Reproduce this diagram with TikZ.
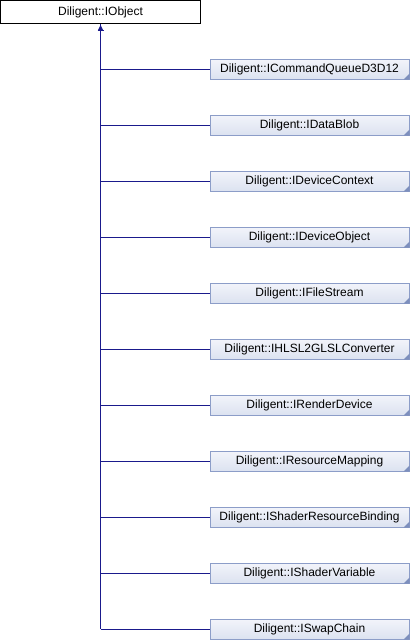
\documentclass[tikz,border=0pt]{standalone}
\usepackage{fontspec}
\setmainfont{Liberation Sans}
\usetikzlibrary{arrows.meta,calc}
\definecolor{edgeblue}{HTML}{1A1A8C}
\definecolor{boxborder}{HTML}{8C9DC8}
\definecolor{boxfilltop}{HTML}{F2F4FA}
\definecolor{boxfillbot}{HTML}{DCE2F0}
\definecolor{cornerc}{HTML}{7D8FBD}
\tikzset{
  basebox/.style={draw=black, line width=1pt, fill=white, minimum width=200pt, minimum height=23pt, inner sep=0pt, font=\fontsize{12}{12}\selectfont},
  childbox/.style={draw=boxborder, line width=1pt, top color=boxfilltop, bottom color=boxfillbot, minimum width=199pt, minimum height=20pt, inner sep=0pt, font=\fontsize{12}{12}\selectfont},
  edge/.style={draw=edgeblue, line width=1pt},
}
\begin{document}
\begin{tikzpicture}[x=1pt,y=-1pt]
\useasboundingbox (0,0) rectangle (410,640);
\node[basebox] (root) at (100.5,12) {Diligent::IObject};
\coordinate (trunkend) at (100.5,629);
\foreach \name/\lab [count=\i from 0] in {
  c1/Diligent::ICommandQueueD3D12,
  c2/Diligent::IDataBlob,
  c3/Diligent::IDeviceContext,
  c4/Diligent::IDeviceObject,
  c5/Diligent::IFileStream,
  c6/Diligent::IHLSL2GLSLConverter,
  c7/Diligent::IRenderDevice,
  c8/Diligent::IResourceMapping,
  c9/Diligent::IShaderResourceBinding,
  c10/Diligent::IShaderVariable,
  c11/Diligent::ISwapChain} {
  \node[childbox] (\name) at (309.5,{69+56*\i}) {\lab};
  \fill[cornerc] (\name.south east) -- ++(-6,0) -- ++(6,-6) -- cycle;
  \coordinate (j\name) at (100.5,{69+56*\i});
  \draw[edge] (j\name) -- (\name.west);
}
\draw[edge] (trunkend) -- (root.south);
\fill[edgeblue] ($(root.south)+(0,1)$) -- ++(-2.5,5) -- ++(5,0) -- cycle;
\draw[edgeblue, line width=1pt] ($(root.south)+(-3,6)$) -- ++(6,0);
\end{tikzpicture}
\end{document}
